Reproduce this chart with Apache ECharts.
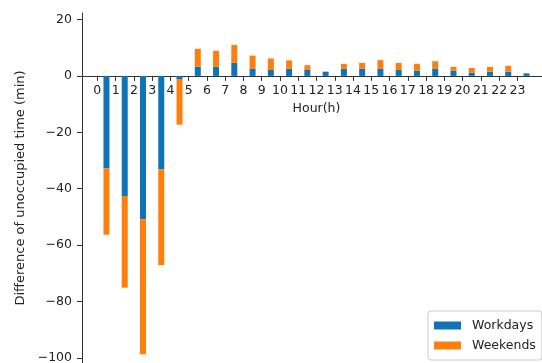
<!DOCTYPE html>
<html>
<head>
<meta charset="utf-8">
<script src="https://cdn.jsdelivr.net/npm/echarts@6/dist/echarts.min.js"></script>
<style>html,body{margin:0;padding:0;background:#fff}#c{width:542px;height:363px}</style>
</head>
<body>
<div id="c"></div>
<script>
const hours = [0,1,2,3,4,5,6,7,8,9,10,11,12,13,14,15,16,17,18,19,20,21,22,23];
const workdays = [-32.8,-42.6,-50.8,-33.1,-1.1,3.2,3.2,4.6,2.5,2.1,2.5,2.1,1.5,2.5,2.5,2.5,2.1,1.8,2.5,1.8,1.1,1.5,1.5,0.9];
const weekends = [-23.5,-32.5,-47.9,-34.0,-16.2,6.4,5.7,6.4,4.7,4.1,3.0,1.7,0.0,1.8,2.1,3.1,2.5,2.5,2.7,1.4,1.7,1.7,2.1,0.0];
const yTicks = [-100,-80,-60,-40,-20,0,20];

const font = 'DejaVu Sans';
const yMin = -101.8, yMax = 22.3;
const gridTop = 13, gridH = 350;
// distance from grid bottom up to the zero line
const zeroOffset = -gridH * (0 - yMin) / (yMax - yMin);

const chart = echarts.init(document.getElementById('c'), null, {renderer:'canvas'});
chart.setOption({
  animation:false,
  textStyle:{fontFamily:font},
  grid:{left:82, top:gridTop, width:469, height:gridH, containLabel:false, outerBoundsMode:'none'},
  xAxis:{
    type:'value', min:-0.84, max:24.84, position:'bottom', offset:zeroOffset,
    name:'Hour(h)', nameLocation:'middle', nameGap:26,
    nameTextStyle:{fontFamily:font,fontSize:12.5,color:'#222'},
    axisLine:{onZero:false,lineStyle:{color:'#333',width:1}},
    axisTick:{show:true,length:5,customValues:hours,lineStyle:{color:'#333'}},
    axisLabel:{customValues:hours,fontFamily:font,fontSize:12.5,color:'#222',margin:8},
    splitLine:{show:false}
  },
  yAxis:{
    type:'value', min:yMin, max:yMax,
    name:'Difference of unoccupied time (min)', nameLocation:'middle', nameGap:54,
    nameTextStyle:{fontFamily:font,fontSize:13,color:'#222'},
    axisLine:{show:true,onZero:false,lineStyle:{color:'#333',width:1}},
    axisTick:{show:true,length:5,customValues:yTicks,lineStyle:{color:'#333'}},
    axisLabel:{customValues:yTicks,fontFamily:font,fontSize:12.5,color:'#222',margin:10,
      formatter:v=>v<0?'\u2212'+Math.abs(v):String(v)},
    splitLine:{show:false}
  },
  legend:{
    orient:'vertical', left:428, top:311,
    itemWidth:27, itemHeight:8, itemGap:7,
    padding:[8,6,8,6],
    borderColor:'#cccccc', borderWidth:1, borderRadius:3,
    textStyle:{fontFamily:font,fontSize:12.5,color:'#222',padding:[0,0,0,6]},
    data:[{name:'Workdays',icon:'rect'},{name:'Weekends',icon:'rect'}]
  },
  series:[
    {name:'Workdays',type:'bar',stack:'t',barWidth:6,
     encode:{x:1,y:0},
     itemStyle:{color:'#0f73b6'},
     data:hours.map((h,i)=>[workdays[i],h+0.5])},
    {name:'Weekends',type:'bar',stack:'t',barWidth:6,
     encode:{x:1,y:0},
     itemStyle:{color:'#ff7f0e'},
     data:hours.map((h,i)=>[weekends[i],h+0.5])}
  ]
});
</script>
</body>
</html>
